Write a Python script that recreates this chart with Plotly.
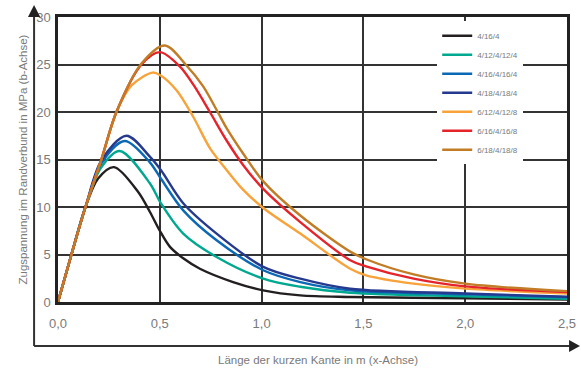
import plotly.graph_objects as go

# --- data ---
names = ["4/16/4", "4/12/4/12/4", "4/16/4/16/4", "4/18/4/18/4",
         "6/12/4/12/8", "6/16/4/16/8", "6/18/4/18/8"]
colors = ["#231f20", "#00a88f", "#0a68b4", "#253a8e",
          "#f8a33a", "#e5232b", "#c27c25"]

x_black = [0, 0.066, 0.135, 0.197, 0.275, 0.393, 0.451, 0.5, 0.55, 0.615, 0.697, 0.86, 1.008, 1.19, 1.435, 2.0, 2.5]
y_black = [0, 5.0, 10.0, 13.0, 14.2, 11.6, 9.5, 7.5, 5.8, 4.6, 3.5, 2.1, 1.23, 0.7, 0.53, 0.4, 0.25]

x_teal = [0, 0.066, 0.135, 0.21, 0.303, 0.451, 0.505, 0.615, 0.779, 1.008, 1.19, 1.435, 2.0, 2.5]
y_teal = [0, 5.0, 10.0, 14.1, 15.9, 12.5, 10.4, 7.2, 4.74, 2.46, 1.6, 0.98, 0.6, 0.35]

x_blue = [0, 0.066, 0.135, 0.213, 0.328, 0.451, 0.505, 0.615, 0.779, 1.008, 1.19, 1.435, 2.0, 2.5]
y_blue = [0, 5.0, 10.0, 14.6, 16.95, 14.7, 13.0, 9.65, 6.5, 3.34, 2.1, 1.23, 0.8, 0.5]

x_dblue = [0, 0.066, 0.135, 0.213, 0.336, 0.451, 0.505, 0.615, 0.779, 1.008, 1.19, 1.435, 2.0, 2.5]
y_dblue = [0, 5.0, 10.0, 14.9, 17.5, 15.3, 13.9, 10.4, 7.2, 3.7, 2.46, 1.4, 0.9, 0.55]

x_orange = [0, 0.066, 0.135, 0.213, 0.287, 0.361, 0.464, 0.5, 0.582, 0.664, 0.746, 0.828, 0.91, 1.008, 1.19, 1.435, 1.513, 1.747, 2.0, 2.5]
y_orange = [0, 5.0, 10.0, 15.0, 20.0, 22.8, 24.15, 23.9, 22.3, 19.5, 16.2, 13.9, 11.8, 9.9, 7.2, 3.5, 2.81, 1.93, 1.41, 0.9]

x_red = [0, 0.066, 0.135, 0.213, 0.287, 0.41, 0.5, 0.598, 0.664, 0.746, 0.828, 0.91, 1.008, 1.19, 1.435, 1.513, 1.747, 2.0, 2.5]
y_red = [0, 5.0, 10.0, 15.0, 20.0, 25.0, 26.3, 24.8, 22.9, 20.0, 17.0, 14.4, 11.9, 8.4, 4.4, 3.76, 2.46, 1.65, 1.05]

x_brown = [0, 0.066, 0.135, 0.213, 0.287, 0.41, 0.525, 0.631, 0.713, 0.787, 0.828, 0.91, 1.008, 1.19, 1.435, 1.513, 1.747, 2.0, 2.5]
y_brown = [0, 5.0, 10.0, 15.0, 20.0, 25.1, 27.0, 24.9, 22.7, 19.9, 18.3, 15.6, 12.7, 9.1, 5.3, 4.5, 2.9, 1.93, 1.15]

xs = [x_black, x_teal, x_blue, x_dblue, x_orange, x_red, x_brown]
ys = [y_black, y_teal, y_blue, y_dblue, y_orange, y_red, y_brown]

x_ticks = [0, 0.5, 1.0, 1.5, 2.0, 2.5]
y_ticks = [0, 5, 10, 15, 20, 25, 30]

fig = go.Figure()
for name, col, x, y in zip(names, colors, xs, ys):
    fig.add_trace(go.Scatter(x=x, y=y, name=name, mode="lines",
                             line=dict(color=col, width=2.4, shape="spline", smoothing=0.9)))

grey = "#7a7a7a"
fig.update_layout(
    width=581, height=370,
    margin=dict(l=58, r=14, t=17, b=68, autoexpand=False),
    paper_bgcolor="white", plot_bgcolor="white",
    separators=",.",
    font=dict(family="Liberation Sans", color=grey),
    showlegend=True,
    legend=dict(x=0.745, y=0.985, xanchor="left", yanchor="top",
                bgcolor="white", font=dict(size=8, color=grey),
                itemwidth=30, tracegroupgap=0),
)
fig.update_xaxes(range=[0, 2.5], tickvals=x_ticks, tickformat=".1f",
                 showgrid=True, gridcolor="#333", gridwidth=1.5,
                 showline=True, linecolor="#222", linewidth=2.5, mirror=True,
                 zeroline=False, ticks="", ticklabelstandoff=8,
                 tickfont=dict(size=13, color=grey))
fig.update_yaxes(range=[0, 30], tickvals=y_ticks,
                 showgrid=True, gridcolor="#333", gridwidth=1.5,
                 showline=True, linecolor="#222", linewidth=2.5, mirror=True,
                 zeroline=False, ticks="", ticklabelstandoff=2,
                 tickfont=dict(size=13, color=grey))

# outer L-shaped axes with arrow heads
fig.add_shape(type="line", xref="paper", yref="paper", x0=-0.047, x1=-0.047, y0=-0.154, y1=1.0,
              line=dict(color="#333", width=2))
fig.add_shape(type="line", xref="paper", yref="paper", x0=-0.047, x1=1.005, y0=-0.154, y1=-0.154,
              line=dict(color="#333", width=2))
fig.add_shape(type="path", xref="paper", yref="paper",
              path="M -0.059 1.0 L -0.035 1.0 L -0.047 1.042 Z",
              fillcolor="#222", line=dict(width=0))
fig.add_shape(type="path", xref="paper", yref="paper",
              path="M 1.004 -0.133 L 1.004 -0.175 L 1.0255 -0.154 Z",
              fillcolor="#222", line=dict(width=0))

fig.add_annotation(text="Länge der kurzen Kante in m (x-Achse)", xref="paper", yref="paper",
                   x=0.51, y=-0.2035, yanchor="middle", showarrow=False,
                   font=dict(size=11.5, color=grey))
fig.add_annotation(text="Zugspannung im Randverbund in MPa (b-Achse)", xref="paper", yref="paper",
                   x=-0.0707, y=0.5, xanchor="center", textangle=-90, showarrow=False,
                   font=dict(size=11.5, color=grey))

# the page has a default body margin; remove it so the figure sits at the window's corner
fig.write_html("out.html", config={"displayModeBar": False},
               post_script="document.body.style.margin='0';")
